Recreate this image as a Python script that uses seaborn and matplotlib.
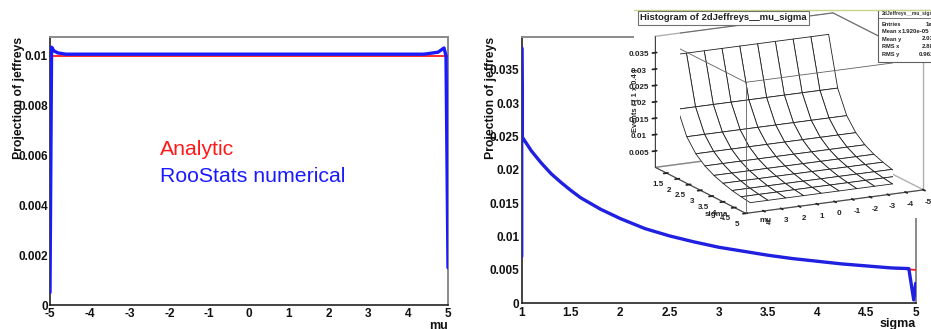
import numpy as np
import pandas as pd
import matplotlib
matplotlib.use("Agg")
import matplotlib.pyplot as plt
import seaborn as sns
from matplotlib.ticker import MultipleLocator, FuncFormatter
from matplotlib.patches import Rectangle

# ---------------- data ----------------
mu_analytic = [-5.0, 5.0]
jeff_mu_analytic = [0.0100, 0.0100]

mu_numeric = [-5.0, -4.96, -4.9, -4.8, -4.6, 0.0, 4.4, 4.75, 4.9, 4.95, 5.0]
jeff_mu_numeric = [0.0005, 0.01035, 0.0102, 0.01012, 0.01007, 0.01007,
                   0.01007, 0.01015, 0.01032, 0.0100, 0.0015]

sigma_analytic = [1.0, 1.1, 1.2, 1.3, 1.4, 1.5, 1.6, 1.8, 2.0, 2.25, 2.5, 2.75,
                  3.0, 3.25, 3.5, 3.75, 4.0, 4.25, 4.5, 4.75, 5.0]
jeff_sigma_analytic = [0.0250, 0.0228, 0.0210, 0.0194, 0.0181, 0.0169, 0.0158,
                       0.0141, 0.0127, 0.0112, 0.0101, 0.0092, 0.0084, 0.0078,
                       0.0072, 0.0067, 0.0063, 0.0059, 0.0056, 0.0053, 0.0050]

sigma_numeric = [1.0, 1.0, 1.006, 1.1, 1.2, 1.3, 1.4, 1.5, 1.6, 1.8, 2.0, 2.25,
                 2.5, 2.75, 3.0, 3.25, 3.5, 3.75, 4.0, 4.25, 4.5, 4.75, 4.93,
                 4.98, 5.0]
jeff_sigma_numeric = [0.0070, 0.0383, 0.0249, 0.0228, 0.0210, 0.0194, 0.0181,
                      0.0169, 0.0158, 0.0141, 0.0127, 0.0112, 0.0101, 0.0092,
                      0.0084, 0.0078, 0.0072, 0.0067, 0.0063, 0.0059, 0.0056,
                      0.0053, 0.0052, 0.0005, 0.0030]

# 2D histogram shown in the inset (bin centres and height per sigma row)
hist_mu_centres = [-4.5, -3.5, -2.5, -1.5, -0.5, 0.5, 1.5, 2.5, 3.5, 4.5]
hist_sigma_centres = [1.2, 1.6, 2.0, 2.4, 2.8, 3.2, 3.6, 4.0, 4.4, 4.8]
hist_height_by_sigma = [0.0345, 0.0195, 0.0125, 0.0087, 0.0064, 0.0049,
                        0.0039, 0.0031, 0.0026, 0.0022]
hist_mu_ticks = [-5, -4, -3, -2, -1, 0, 1, 2, 3, 4]
hist_sigma_ticks = [1.5, 2, 2.5, 3, 3.5, 4, 4.5, 5]
hist_z_ticks = [0.005, 0.01, 0.015, 0.02, 0.025, 0.03, 0.035]

stats_names = ["Entries", "Mean x", "Mean y", "RMS x", "RMS y"]
stats_values = ["1e+06", "1.920e-05", "2.034", "2.887", "0.9623"]

# ---------------- style ----------------
sns.set_theme(style="white")
plt.rcParams["font.family"] = ["Liberation Sans", "DejaVu Sans"]
plt.rcParams["axes.unicode_minus"] = False

W, H = 931, 329
fig = plt.figure(figsize=(W / 100, H / 100), dpi=100)
fig.patch.set_facecolor("white")

RED = "#ff1a1a"
BLUE = "#1a1aff"
fmt = FuncFormatter(lambda v, p: "%g" % round(v, 6))


def style_root(ax, xmaj, xmin, ymaj, ymin, xlim, ylim, xlabel, ylab_x):
    ax.set_xlim(*xlim)
    ax.set_ylim(*ylim)
    ax.xaxis.set_major_locator(MultipleLocator(xmaj))
    ax.xaxis.set_minor_locator(MultipleLocator(xmin))
    ax.yaxis.set_major_locator(MultipleLocator(ymaj))
    ax.yaxis.set_minor_locator(MultipleLocator(ymin))
    ax.xaxis.set_major_formatter(fmt)
    ax.yaxis.set_major_formatter(fmt)
    ax.tick_params(axis="x", which="major", direction="in", length=6,
                   width=1.0, color="#333333", pad=2.5, labelsize=8.5)
    ax.tick_params(axis="x", which="minor", direction="in", length=3,
                   width=0.8, color="#555555")
    ax.tick_params(axis="y", which="major", direction="in", length=8.5,
                   width=1.0, color="#333333", pad=1.5, labelsize=8.5)
    ax.tick_params(axis="y", which="minor", direction="in", length=4.5,
                   width=0.8, color="#555555")
    ax.tick_params(top=False, right=False, which="both")
    for lab in ax.get_xticklabels() + ax.get_yticklabels():
        lab.set_fontweight("bold")
        lab.set_color("#111111")
    for side in ["left", "bottom"]:
        ax.spines[side].set_color("#222222")
        ax.spines[side].set_linewidth(1.2)
    for side in ["top", "right"]:
        ax.spines[side].set_color("#8a8a8a")
        ax.spines[side].set_linewidth(1.4)
    ax.set_xlabel("")
    ax.set_ylabel("")
    ax.text(1.0, -0.055, xlabel, transform=ax.transAxes, ha="right",
            va="top", fontsize=9, fontweight="bold", color="#111111")
    ax.text(ylab_x, 1.0, "Projection of jeffreys", transform=ax.transAxes,
            rotation=90, ha="center", va="top", fontsize=8.8,
            fontweight="bold", color="#111111")
    ax.set_facecolor("white")


# ---------------- left panel ----------------
ax1 = fig.add_axes([50 / W, 24 / H, 398 / W, 268 / H])
sns.lineplot(x=mu_analytic, y=jeff_mu_analytic, ax=ax1, color=RED,
             linewidth=1.3, estimator=None, sort=False, zorder=3)
sns.lineplot(x=mu_numeric, y=jeff_mu_numeric, ax=ax1, color=BLUE,
             linewidth=2.4, estimator=None, sort=False, zorder=3.1)
style_root(ax1, 1, 0.2, 0.002, 0.0004, (-5, 5), (0, 0.01076), "mu",
           (19 - 50) / 398)
ax1.text((160 - 50) / 398, (305 - 155) / 268, "Analytic",
         transform=ax1.transAxes, color=RED, fontsize=15.3, ha="left",
         va="baseline")
ax1.text((160 - 50) / 398, (305 - 182) / 268, "RooStats numerical",
         transform=ax1.transAxes, color=BLUE, fontsize=15.3, ha="left",
         va="baseline")

# ---------------- right panel ----------------
ax2 = fig.add_axes([521.7 / W, 25.7 / H, 394 / W, 266.3 / H])
sns.lineplot(x=sigma_analytic, y=jeff_sigma_analytic, ax=ax2, color=RED,
             linewidth=1.3, estimator=None, sort=False, zorder=3)
sns.lineplot(x=sigma_numeric, y=jeff_sigma_numeric, ax=ax2, color="#2020e0",
             linewidth=2.4, estimator=None, sort=False, zorder=3.1)
style_root(ax2, 0.5, 0.1, 0.005, 0.001, (1, 5), (0, 0.0399), "sigma",
           (491 - 521.7) / 394)

# ---------------- inset: white background ----------------
ix0, iy0, ix1, iy1 = 634, 10, 931, 218
fig.patches.append(Rectangle((ix0 / W, 1 - iy1 / H), (ix1 - ix0) / W,
                             (iy1 - iy0) / H, transform=fig.transFigure,
                             facecolor="white", edgecolor="none", zorder=1))

# ---------------- inset: 3D surface ----------------
ax3 = fig.add_axes([638 / W, (H - 223) / H, 297 / W, (223 - 9) / H],
                   projection="3d")
ax3.set_zorder(2)
ax3.patch.set_visible(False)
ax3.set_proj_type("ortho")
ax3.view_init(elev=15, azim=63)
ax3.set_box_aspect((1, 1, 0.68), zoom=1.42)

M, S = np.meshgrid(hist_mu_centres, hist_sigma_centres)
Z = np.tile(np.array(hist_height_by_sigma)[:, None], (1, len(hist_mu_centres)))
ax3.plot_surface(M, S, Z, color="white", edgecolor="#202020", linewidth=0.6,
                 shade=False, rstride=1, cstride=1, antialiased=True)

mu_lo, mu_hi = min(hist_mu_ticks), max(hist_mu_ticks) + 1
sg_lo, sg_hi = 1.0, max(hist_sigma_ticks)
z_lo, z_hi = 0.0, 0.04
ax3.set_xlim(mu_lo, mu_hi)
ax3.set_ylim(sg_lo, sg_hi)
ax3.set_zlim(z_lo, z_hi)

# box edges
for a, b in [((mu_hi, sg_hi, z_hi), (mu_lo, sg_hi, z_hi)),
             ((mu_hi, sg_hi, z_hi), (mu_hi, sg_lo, z_hi)),
             ((mu_hi, sg_hi, z_hi), (mu_hi, sg_hi, z_lo)),
             ((mu_lo, sg_lo, z_hi), (mu_lo, sg_hi, z_hi)),
             ((mu_lo, sg_lo, z_hi), (mu_hi, sg_lo, z_hi)),
             ((mu_lo, sg_hi, z_lo), (mu_lo, sg_hi, z_hi)),
             ((mu_hi, sg_lo, z_lo), (mu_hi, sg_lo, z_hi))]:
    ax3.plot([a[0], b[0]], [a[1], b[1]], [a[2], b[2]], color="#606060",
             linewidth=0.6)

for axis in (ax3.xaxis, ax3.yaxis, ax3.zaxis):
    axis.pane.fill = False
    axis.pane.set_edgecolor("#606060")
    axis.line.set_color("#404040")
    axis.line.set_linewidth(0.7)
ax3.grid(False)
ax3.set_xticks(hist_mu_ticks)
ax3.set_yticks(hist_sigma_ticks)
ax3.set_zticks(hist_z_ticks)
ax3.xaxis.set_major_formatter(fmt)
ax3.yaxis.set_major_formatter(fmt)
ax3.zaxis.set_major_formatter(fmt)
ax3.tick_params(axis="both", which="major", labelsize=5.8, pad=-4,
                colors="#222222")
ax3.tick_params(axis="z", which="major", labelsize=5.8, pad=-3)
for lab in (ax3.get_xticklabels() + ax3.get_yticklabels()
            + ax3.get_zticklabels()):
    lab.set_fontweight("bold")
ax3.set_xlabel("")
ax3.set_ylabel("")
ax3.set_zlabel("Events / ( 1 x 0.4 )", fontsize=5.4, fontweight="bold",
               labelpad=-15)
ax3.text(mu_hi - 0.3, sg_hi + 0.35, z_lo, "mu", fontsize=5.8,
         fontweight="bold", ha="left", va="top", color="#222222")
ax3.text(mu_hi + 0.6, sg_hi - 0.3, z_lo, "sigma", fontsize=5.8,
         fontweight="bold", ha="right", va="top", color="#222222")

# title box of the inset
fig.text((ix0 + 6) / W, 1 - 18 / H, "Histogram of 2dJeffreys__mu_sigma",
         fontsize=6.8, fontweight="bold", color="#222222", ha="left",
         va="center", zorder=7,
         bbox=dict(boxstyle="square,pad=0.25", facecolor="white",
                   edgecolor="#707070", linewidth=0.8))

# stats box of the inset (clipped by the figure edge)
fig.patches.append(Rectangle((878 / W, 1 - 62 / H), 80 / W, 52 / H,
                             transform=fig.transFigure, facecolor="white",
                             edgecolor="#606060", linewidth=0.8, zorder=5))
fig.text(882 / W, 1 - 14 / H, "2dJeffreys__mu_sigma", fontsize=3.6,
         fontweight="bold", color="#333333", ha="left", va="center",
         zorder=6)
fig.lines.append(plt.Line2D([878 / W, 1.0], [1 - 18 / H, 1 - 18 / H],
                            transform=fig.transFigure, color="#606060",
                            linewidth=0.6, zorder=6))
row_y = [24, 31.5, 39, 46.5, 54.5]
val_x = [926, 902, 922, 922, 919]
for name, val, ry, vx in zip(stats_names, stats_values, row_y, val_x):
    fig.text(882 / W, 1 - ry / H, name, fontsize=4.1, fontweight="bold",
             color="#222222", ha="left", va="center", zorder=6)
    fig.text(vx / W, 1 - ry / H, val, fontsize=4.4, fontweight="bold",
             color="#222222", ha="left", va="center", zorder=6)

# thin coloured line at top of the inset
fig.lines.append(plt.Line2D([ix0 / W, 1.0], [1 - iy0 / H, 1 - iy0 / H],
                            transform=fig.transFigure, color="#c8d488",
                            linewidth=1.0, zorder=6))

fig.savefig("out.png", dpi=100, facecolor="white")
